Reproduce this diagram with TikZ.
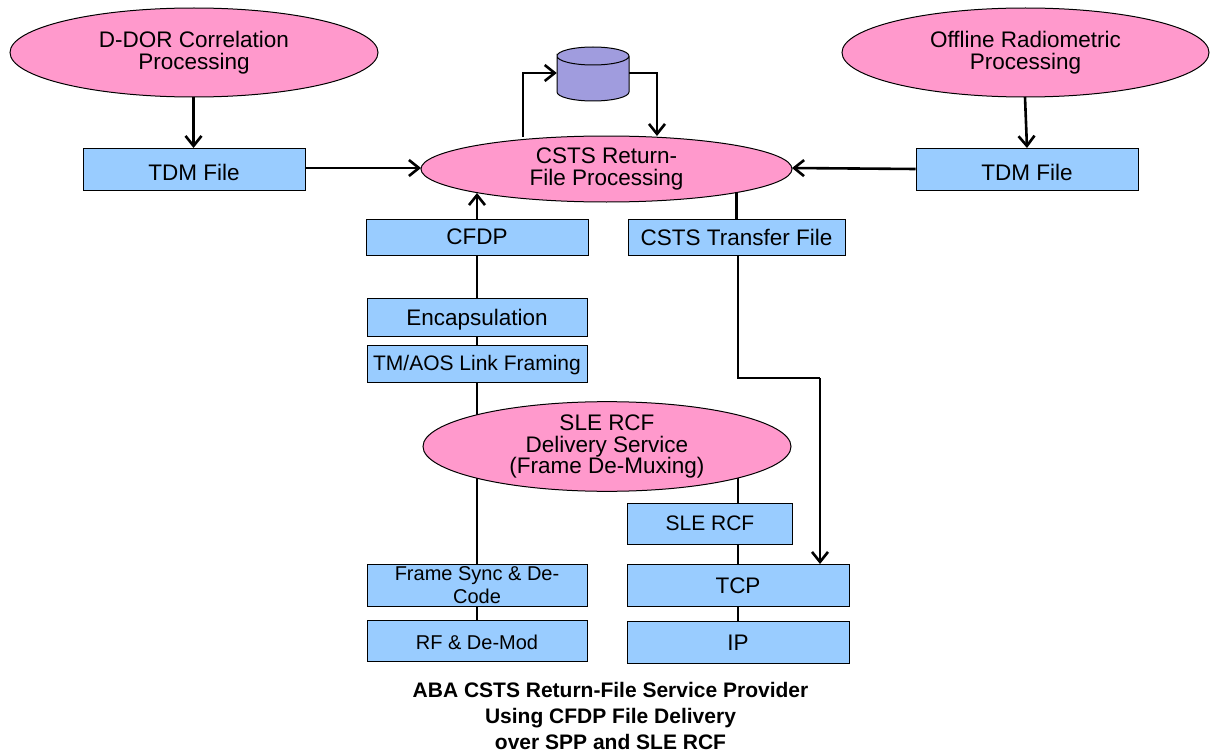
\documentclass[tikz,border=0pt]{standalone}
\usepackage{fontspec}
\setmainfont{Liberation Sans}
\usetikzlibrary{shapes.geometric,arrows.meta}
\definecolor{pk}{RGB}{255,153,204}
\definecolor{bl}{RGB}{153,204,255}
\definecolor{cy}{RGB}{160,156,222}
\pgfdeclarelayer{bg}
\pgfsetlayers{bg,main}
\newcommand{\fs}[2][21.5]{\fontsize{#2}{#1}\selectfont}
\newcommand{\low}[2]{\raisebox{-#1pt}[\height][\depth]{#2}}
\tikzset{
 x=1pt,y=-1pt,
 ell/.style={draw=black,line width=1pt,fill=pk,ellipse,inner sep=0,align=center,font=\fs{22.5}},
 bx/.style={draw=black,line width=1pt,fill=bl,inner sep=0,align=center,font=\fs{22.5}},
 con/.style={draw=black,line width=2.6pt},
 arr/.style={con,-{Straight Barb[length=10pt,width=16pt,line width=2.6pt]}},
}
\begin{document}
\begin{tikzpicture}
\useasboundingbox (0,0) rectangle (1211,752);
\node[ell,minimum width=368pt,minimum height=89pt] (dd) at (194,52.5) {D-DOR Correlation\\Processing};
\node[ell,minimum width=367pt,minimum height=89pt] (of) at (1025.5,52.5) {Offline Radiometric\\Processing};
\node[ell,minimum width=371pt,minimum height=66pt] (cs) at (606.5,169) {CSTS Return-\\File Processing};
\node[ell,minimum width=368pt,minimum height=87pt] (sl) at (607,446.5) {SLE RCF\\Delivery Service\\(Frame De-Muxing)};
\node[bx,minimum width=222pt,minimum height=42pt] (t1) at (194,169) {\low{3.5}{TDM File}};
\node[bx,minimum width=222pt,minimum height=42pt] (t2) at (1027,169) {\low{3.5}{TDM File}};
\node[bx,minimum width=222pt,minimum height=36pt] (cf) at (477,237) {CFDP};
\node[bx,minimum width=217pt,minimum height=36pt] (tf) at (736.5,237) {CSTS Transfer File};
\node[bx,minimum width=220pt,minimum height=38pt] (en) at (477,317) {\low{3}{Encapsulation}};
\node[bx,minimum width=220pt,minimum height=37pt,font=\fs{21}] (tm) at (477,363.5) {\low{2}{TM/AOS Link Framing}};
\node[bx,minimum width=165pt,minimum height=41pt,font=\fs{21}] (sr) at (710,523.5) {SLE RCF};
\node[bx,minimum width=220pt,minimum height=42pt,font={\fs[23]{20}}] (fs) at (477,585) {Frame Sync \& De-\\Code};
\node[bx,minimum width=220pt,minimum height=41pt,font=\fs{20}] (rf) at (477,640.5) {\low{1.5}{RF \& De-Mod}};
\node[bx,minimum width=222pt,minimum height=42pt] (tc) at (738,585) {\low{1}{TCP}};
\node[bx,minimum width=222pt,minimum height=42pt] (ip) at (738,642) {\low{1}{IP}};
\node[minimum width=72pt,minimum height=54pt,inner sep=0] (db) at (593,74) {};
\fill[cy] (557,56) arc[x radius=36,y radius=9,start angle=180,end angle=360] -- (629,92) arc[x radius=36,y radius=9,start angle=0,end angle=180] -- cycle;
\draw[line width=1pt] (557,56) arc[x radius=36,y radius=9,start angle=180,end angle=540] -- (557,92) arc[x radius=36,y radius=9,start angle=180,end angle=0] -- (629,56);
\coordinate (cornerA) at (523,73);
\coordinate (cornerB) at (657,73);
\coordinate (csA) at (523,137);
\coordinate (csB) at (657,136);
\coordinate (csC) at (477,193);
\coordinate (inL) at (421,168);
\coordinate (inR) at (792,168);
\coordinate (ddOut) at (193.5,97);
\coordinate (t1In) at (193.5,148);
\coordinate (ofOut) at (1025,97);
\coordinate (t2In) at (1027,148);
\coordinate (tr1) at (738,378);
\coordinate (tr2) at (820,378);
\coordinate (tcIn) at (820,564);
\begin{pgfonlayer}{bg}
\draw[con] (cf.center) -- (en.center);
\draw[con] (en.center) -- (tm.center);
\draw[con] (tm.center) -- (sl.center -| tm.center);
\draw[con] (sl.center -| fs.center) -- (fs.center);
\draw[con] (fs.center) -- (rf.center);
\draw[con] (tf.center |- cs.center) -- (tf.center);
\draw[con] (tc.center |- sl.center) -- (tc.center);
\draw[con] (tc.center) -- (ip.center);
\end{pgfonlayer}
\draw[arr] (ddOut) -- (t1In);
\draw[arr] (ofOut) -- (t2In);
\draw[arr] (t1.east |- inL) -- (inL);
\draw[arr] (t2.west) -- (inR);
\draw[arr] (csA) -- (cornerA) -- (db.west |- cornerA);
\draw[arr] (db.east |- cornerB) -- (cornerB) -- (csB);
\draw[arr] (cf.north) -- (csC);
\draw[con] (tf.south -| tr1) -- (tr1) -- (tr2);
\draw[arr] (tr2) -- (tcIn);
\node[align=center,font=\bfseries\fontsize{21}{26}\selectfont] (cap) at (610.5,716) {ABA CSTS Return-File Service Provider\\Using CFDP File Delivery\\over SPP and SLE RCF};
\end{tikzpicture}
\end{document}
